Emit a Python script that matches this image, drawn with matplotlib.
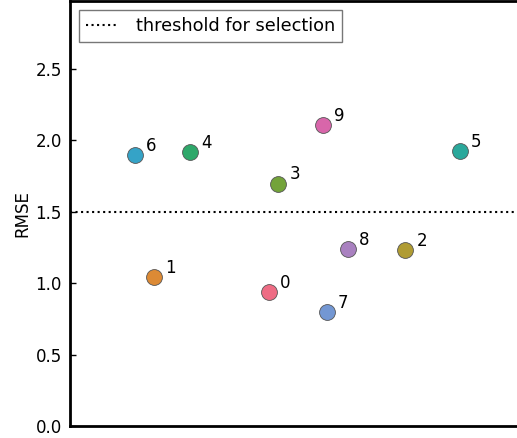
import numpy as np
import matplotlib.pyplot as plt

# model index, horizontal position (arbitrary units), RMSE
labels = [0, 1, 2, 3, 4, 5, 6, 7, 8, 9]
xpos = [0.445, 0.188, 0.749, 0.465, 0.268, 0.870, 0.145, 0.573, 0.620, 0.564]
rmse = [0.936, 1.040, 1.229, 1.697, 1.920, 1.927, 1.899, 0.796, 1.236, 2.109]
threshold = 1.5

colors = ["#ee6c84", "#dc8a35", "#b09c33", "#73a33a", "#2ea86a",
          "#2aa89b", "#35a3c7", "#7397d3", "#a981c0", "#d866aa"]

fig = plt.figure(figsize=(5.17, 4.38), dpi=100)
ax = fig.add_axes([70 / 517, 12 / 438, 450 / 517, 425 / 438])

ax.axhline(threshold, color="black", linestyle=":", linewidth=1.5, label="threshold for selection")
for i, x, y, c in zip(labels, xpos, rmse, colors):
    ax.scatter(x, y, s=130, color=c, edgecolor="#555555", linewidth=0.6, zorder=3)
    ax.annotate(str(i), (x, y), xytext=(8, 3), textcoords="offset points", fontsize=12)

ax.set_xlim(0, 1.005)
ax.set_ylim(0, 2.975)
ax.set_xticks([])
ax.set_yticks([0.0, 0.5, 1.0, 1.5, 2.0, 2.5])
ax.tick_params(axis="y", direction="in", length=4, width=1, labelsize=12, pad=6)
ax.set_ylabel("RMSE", fontsize=12, labelpad=3)
for s in ax.spines.values():
    s.set_linewidth(2)

leg = ax.legend(loc="upper left", fontsize=12.8, fancybox=False, framealpha=1,
                edgecolor="#777777", borderaxespad=0.5, handlelength=1.7,
                handletextpad=1.1)
leg.get_frame().set_linewidth(1)

fig.savefig("out.png", dpi=100)
